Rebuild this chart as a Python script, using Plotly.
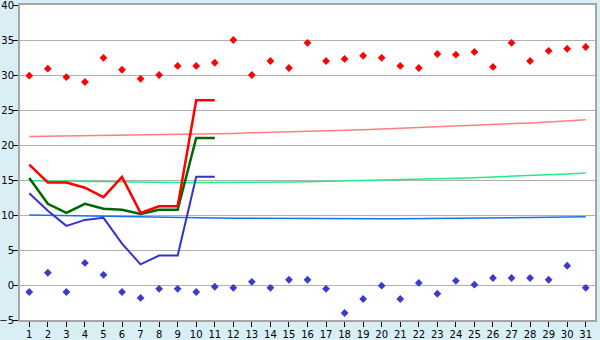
import plotly.graph_objects as go

days = list(range(1, 32))
line_days = list(range(1, 12))

# scatter points
max_pts = [29.9, 30.9, 29.7, 29.0, 32.45, 30.75, 29.45, 30.0, 31.3, 31.3,
           31.75, 35.0, 30.0, 32.0, 31.0, 34.6, 32.0, 32.3, 32.75, 32.45,
           31.3, 31.0, 33.0, 32.9, 33.3, 31.15, 34.6, 32.0, 33.45, 33.75, 34.0]
min_pts = [-1.0, 1.75, -1.0, 3.15, 1.45, -1.0, -1.85, -0.55, -0.55, -1.0,
           -0.25, -0.4, 0.45, -0.4, 0.75, 0.75, -0.55, -4.0, -2.0, -0.1,
           -2.0, 0.3, -1.25, 0.6, 0.05, 1.0, 1.0, 1.0, 0.75, 2.75, -0.4]

# lines (days 1-11)
red_line = [17.2, 14.65, 14.65, 13.9, 12.55, 15.45, 10.3, 11.25, 11.25, 26.4, 26.4]
green_line = [15.3, 11.6, 10.3, 11.6, 10.9, 10.75, 10.15, 10.75, 10.75, 21.0, 21.0]
blue_line = [13.1, 10.6, 8.45, 9.3, 9.6, 5.9, 2.95, 4.2, 4.2, 15.45, 15.45]

# trend lines
red_trend = [21.2, 21.24, 21.28, 21.32, 21.36, 21.4, 21.42, 21.45, 21.48, 21.5,
             21.58, 21.66, 21.74, 21.8, 21.88, 21.95, 22.02, 22.1, 22.18, 22.28,
             22.38, 22.47, 22.58, 22.68, 22.78, 22.9, 23.02, 23.15, 23.3, 23.45, 23.6]
green_trend = [14.9, 14.86, 14.8, 14.77, 14.75, 14.72, 14.7, 14.67, 14.65, 14.63,
               14.63, 14.65, 14.67, 14.7, 14.72, 14.75, 14.8, 14.85, 14.9, 14.97,
               15.03, 15.1, 15.17, 15.25, 15.33, 15.42, 15.5, 15.6, 15.72, 15.86, 16.0]
blue_trend = [10.0, 9.95, 9.88, 9.82, 9.77, 9.73, 9.7, 9.67, 9.63, 9.6,
              9.56, 9.53, 9.51, 9.49, 9.47, 9.46, 9.45, 9.45, 9.45, 9.46,
              9.47, 9.48, 9.5, 9.52, 9.55, 9.58, 9.61, 9.64, 9.67, 9.7, 9.74]

fig = go.Figure()
fig.add_trace(go.Scatter(x=days, y=red_trend, mode="lines",
                         line=dict(color="#ff7f7f", width=1.5)))
fig.add_trace(go.Scatter(x=days, y=green_trend, mode="lines",
                         line=dict(color="#22ee88", width=1.5)))
fig.add_trace(go.Scatter(x=days, y=blue_trend, mode="lines",
                         line=dict(color="#1a70ee", width=1.5)))
fig.add_trace(go.Scatter(x=line_days, y=blue_line, mode="lines",
                         line=dict(color="#3333cc", width=2)))
fig.add_trace(go.Scatter(x=line_days, y=green_line, mode="lines",
                         line=dict(color="#006600", width=2.5)))
fig.add_trace(go.Scatter(x=line_days, y=red_line, mode="lines",
                         line=dict(color="#ff0000", width=2.5)))
fig.add_trace(go.Scatter(x=days, y=max_pts, mode="markers",
                         marker=dict(color="#ff0000", symbol="diamond", size=6)))
fig.add_trace(go.Scatter(x=days, y=min_pts, mode="markers",
                         marker=dict(color="#3a3acc", symbol="diamond", size=6)))

fig.update_layout(
    width=600, height=340,
    margin=dict(l=20, r=5, t=5, b=20, autoexpand=False),
    paper_bgcolor="#daeef6",
    plot_bgcolor="#ffffff",
    showlegend=False,
    font=dict(family="DejaVu Sans", size=10, color="#000000"),
)
fig.update_xaxes(
    range=[0.5, 31.5], tickmode="array", tickvals=days,
    ticktext=[str(d) for d in days],
    showgrid=False, zeroline=False, automargin=False,
    ticklabeloverflow="allow", ticklabelstandoff=-1,
    showline=True, linecolor="#a6a6a6", linewidth=2, mirror=True,
    ticks="outside", ticklen=5, tickcolor="#000000", tickwidth=1,
)
fig.update_yaxes(
    range=[-5, 40], dtick=5, tick0=0,
    showgrid=True, gridcolor="#b0b0b0", gridwidth=1,
    zeroline=False, automargin=False,
    ticklabeloverflow="allow", ticklabelstandoff=-3,
    showline=True, linecolor="#a6a6a6", linewidth=2, mirror=True,
    ticks="outside", ticklen=5, tickcolor="#000000", tickwidth=1,
)

fig.write_html("out.html")
